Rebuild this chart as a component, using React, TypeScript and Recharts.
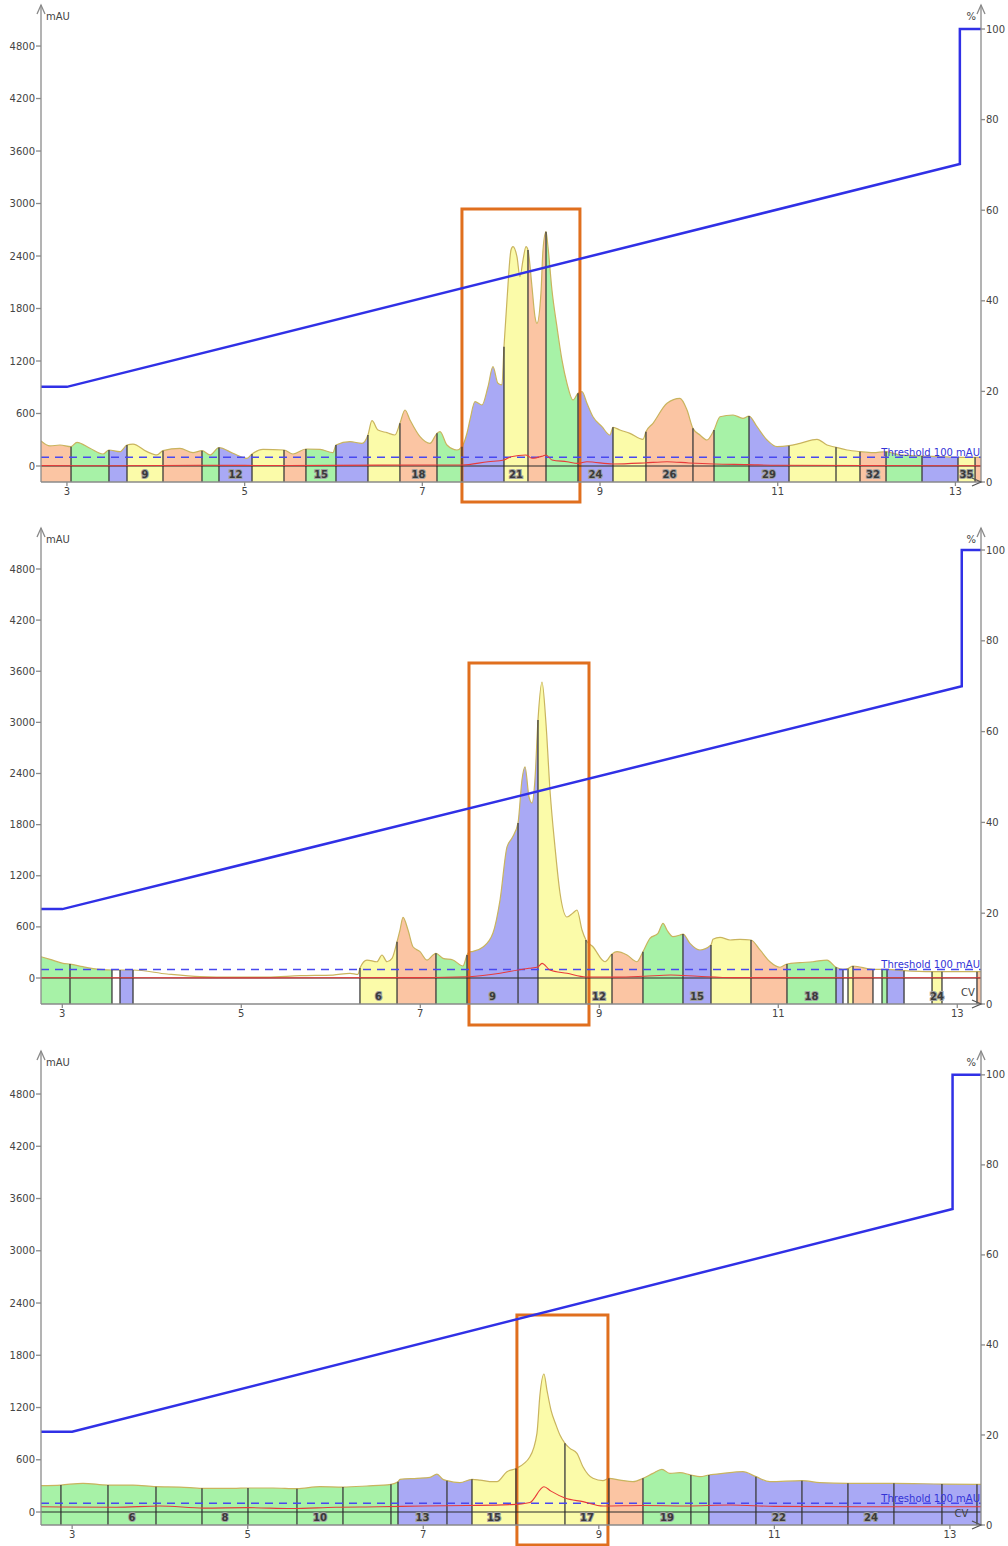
import React from 'react';
import {
  ComposedChart, Area, Line, XAxis, YAxis, ReferenceLine, ReferenceArea, ReferenceDot, Scatter,
} from 'recharts';

// ---------- shared axis ticks ----------
const volumeTicks = [3, 5, 7, 9, 11, 13];
const uvTicks = [0, 600, 1200, 1800, 2400, 3000, 3600, 4200, 4800];
const pctTicks = [0, 20, 40, 60, 80, 100];

// ---------- Run 1 ----------
const p1Volume = [2.708, 2.809, 2.921, 3.046, 3.113, 3.259, 3.406, 3.473, 3.597, 3.676,
  3.743, 3.901, 4.013, 4.081, 4.272, 4.419, 4.520, 4.610, 4.711, 4.869,
  5.026, 5.083, 5.206, 5.443, 5.544, 5.690, 5.848, 5.994, 6.028, 6.186,
  6.321, 6.388, 6.433, 6.501, 6.602, 6.692, 6.748, 6.805, 6.861, 6.974,
  7.086, 7.165, 7.199, 7.277, 7.390, 7.446, 7.503, 7.536, 7.593, 7.671,
  7.739, 7.795, 7.851, 7.896, 7.919, 7.953, 7.998, 8.020, 8.065, 8.099,
  8.133, 8.167, 8.189, 8.234, 8.268, 8.290, 8.335, 8.358, 8.392, 8.414,
  8.459, 8.515, 8.572, 8.628, 8.696, 8.752, 8.797, 8.853, 8.921, 9.022,
  9.112, 9.146, 9.225, 9.337, 9.484, 9.517, 9.596, 9.754, 9.900, 9.979,
  10.046, 10.125, 10.204, 10.283, 10.350, 10.497, 10.609, 10.677, 10.767, 10.880,
  10.992, 11.127, 11.251, 11.442, 11.555, 11.656, 11.780, 11.926, 12.073, 12.219,
  12.377, 12.624, 12.827, 13.029, 13.131, 13.221, 13.288];
const p1Uv = [286, 229, 240, 221, 271, 202, 137, 183, 164, 240,
  251, 164, 126, 175, 202, 152, 175, 126, 210, 145,
  88, 137, 190, 183, 137, 194, 190, 152, 240, 278,
  259, 354, 518, 411, 381, 354, 488, 640, 526, 335,
  259, 373, 392, 240, 183, 221, 377, 526, 735, 697,
  906, 1135, 945, 926, 1363, 1897, 2469, 2507, 2392, 2163,
  2354, 2507, 2469, 2049, 1706, 1630, 1973, 2469, 2678, 2507,
  2011, 1592, 1211, 945, 754, 831, 849, 717, 563, 449,
  354, 442, 411, 373, 305, 392, 488, 717, 773, 640,
  430, 354, 297, 411, 563, 583, 545, 571, 449, 297,
  221, 232, 259, 305, 240, 213, 183, 164, 152, 164,
  126, 114, 107, 99, 99, 99, 99];
const p1Edges = [3.046, 3.473, 3.676, 4.081, 4.520, 4.711, 5.083, 5.443, 5.690, 6.028,
  6.388, 6.748, 7.165, 7.446, 7.919, 8.189, 8.392, 8.752, 9.146, 9.517,
  10.046, 10.283, 10.677, 11.127, 11.656, 11.926, 12.219, 12.624, 13.029, 13.221];
const p1Regions = ['O', 'G', 'B', 'Y', 'O', 'G', 'B', 'Y', 'O', 'G', 'B', 'Y', 'O', 'G', 'B', 'Y',
  'O', 'G', 'B', 'Y', 'O', 'O', 'G', 'B', 'Y', 'Y', 'O', 'G', 'B', 'Y', 'O'];
const p1FracNo = [6, 7, 8, 9, 10, 11, 12, 13, 14, 15, 16, 17, 18, 19, 20, 21, 22, 23, 24, 25, 26,
  27, 28, 29, 30, 31, 32, 33, 34, 35, 36];
const p1Labeled = [9, 12, 15, 18, 21, 24, 26, 29, 32, 35];
const p1RedVol = [2.708, 3.5, 4.5, 5.5, 6.5, 7.446, 7.739, 7.919, 7.998, 8.167, 8.234, 8.358, 8.392,
  8.459, 8.628, 8.752, 8.853, 9.146, 9.5, 9.754, 10.0, 10.283, 10.65, 11.0, 12.0, 13.288];
const p1Red = [5, 3, 8, 5, 10, 11, 49, 69, 106, 126, 88, 115, 126, 69, 49, 30, 49, 23, 35, 49, 35,
  23, 16, 8, 5, 3];
const p1GradVol = [2.708, 3.0, 13.05, 13.05, 13.288];
const p1GradPct = [21, 21, 70.2, 100, 100];

// ---------- Run 2 ----------
const p2Volume = [2.762, 2.863, 3.008, 3.086, 3.231, 3.421, 3.555, 3.645, 3.790, 4.170,
  4.539, 4.907, 5.287, 5.656, 6.025, 6.215, 6.304, 6.326, 6.404, 6.516,
  6.572, 6.628, 6.684, 6.740, 6.773, 6.807, 6.863, 6.918, 6.997, 7.075,
  7.142, 7.175, 7.254, 7.365, 7.477, 7.522, 7.544, 7.589, 7.701, 7.812,
  7.891, 7.969, 8.025, 8.092, 8.136, 8.170, 8.215, 8.248, 8.281, 8.315,
  8.360, 8.404, 8.449, 8.505, 8.561, 8.639, 8.706, 8.751, 8.807, 8.851,
  8.929, 9.064, 9.142, 9.198, 9.310, 9.421, 9.488, 9.566, 9.656, 9.712,
  9.756, 9.823, 9.902, 9.935, 10.013, 10.125, 10.248, 10.270, 10.349, 10.461,
  10.572, 10.695, 10.796, 10.907, 11.019, 11.097, 11.242, 11.387, 11.544, 11.645,
  11.723, 11.779, 11.835, 12.058, 12.159, 12.215, 12.405, 12.718, 12.829, 13.220,
  13.265];
const p2Uv = [250, 219, 172, 164, 133, 102, 94, 94, 94, 47,
  16, 10, 10, 27, 35, 55, 43, 117, 211, 191,
  270, 191, 231, 426, 563, 712, 563, 367, 309, 211,
  270, 290, 231, 211, 141, 270, 305, 313, 364, 528,
  915, 1538, 1643, 1820, 2324, 2477, 2124, 2054, 2324, 3028,
  3474, 2993, 2207, 1538, 998, 716, 763, 798, 563, 446,
  367, 191, 282, 309, 270, 191, 309, 466, 524, 642,
  563, 485, 505, 516, 407, 329, 387, 454, 478, 446,
  454, 446, 329, 191, 126, 164, 180, 191, 211, 126,
  102, 110, 141, 102, 102, 102, 86, 74, 74, 74,
  74];
const p2Edges = [3.086, 3.555, 3.645, 3.790, 6.326, 6.740, 7.175, 7.522, 8.092, 8.315,
  8.851, 9.142, 9.488, 9.935, 10.248, 10.695, 11.097, 11.645, 11.723, 11.779,
  11.835, 12.058, 12.159, 12.215, 12.405, 12.718, 12.829, 13.220];
const p2Regions = ['G', 'G', 'W', 'B', 'W', 'Y', 'O', 'G', 'B', 'B', 'Y', 'Y', 'O', 'G', 'B', 'Y',
  'O', 'G', 'B', 'W', 'Y', 'O', 'W', 'G', 'B', 'W', 'Y', 'W', 'O'];
const p2FracNo = [3, 4, null, 5, null, 6, 7, 8, 9, 10, 11, 12, 13, 14, 15, 16, 17, 18, 19, null,
  20, 21, null, 22, 23, null, 24, null, 25];
const p2Labeled = [6, 9, 12, 15, 18, 24];
const p2RedVol = [2.762, 5.0, 7.0, 7.544, 7.891, 8.092, 8.215, 8.315, 8.360, 8.449, 8.639, 8.851,
  9.2, 9.5, 9.8, 10.1, 10.5, 13.265];
const p2Red = [3, 2, 5, 15, 55, 94, 114, 130, 172, 94, 55, 12, 10, 20, 35, 20, 5, 3];
const p2GradVol = [2.762, 3.0, 13.05, 13.05, 13.265];
const p2GradPct = [20.9, 20.9, 70, 100, 100];

// ---------- Run 3 ----------
const p3Volume = [2.645, 2.872, 3.123, 3.408, 3.693, 3.955, 4.228, 4.479, 4.832, 5.003,
  5.288, 5.561, 5.823, 6.085, 6.358, 6.632, 6.712, 6.735, 6.928, 7.076,
  7.156, 7.224, 7.270, 7.418, 7.555, 7.646, 7.794, 7.839, 7.953, 8.056,
  8.215, 8.295, 8.329, 8.375, 8.409, 8.455, 8.512, 8.557, 8.614, 8.671,
  8.751, 8.819, 8.933, 9.047, 9.115, 9.241, 9.389, 9.503, 9.617, 9.719,
  9.810, 9.924, 10.049, 10.152, 10.254, 10.414, 10.641, 10.790, 10.949, 11.314,
  11.519, 11.838, 12.362, 12.909, 13.308, 13.354];
const p3Uv = [302, 310, 330, 310, 310, 291, 287, 272, 272, 276,
  276, 268, 291, 287, 299, 318, 348, 375, 387, 398,
  436, 375, 360, 337, 375, 367, 348, 348, 463, 500,
  635, 904, 1344, 1585, 1401, 1171, 1000, 884, 789, 731,
  674, 520, 387, 360, 387, 367, 348, 387, 444, 490,
  444, 452, 425, 406, 425, 444, 463, 406, 348, 360,
  337, 329, 329, 321, 318, 318];
const p3Edges = [2.872, 3.408, 3.955, 4.479, 5.003, 5.561, 6.085, 6.632, 6.712, 7.270,
  7.555, 8.056, 8.614, 9.115, 9.503, 10.049, 10.254, 10.790, 11.314, 11.838,
  12.362, 12.909, 13.308];
const p3Regions = ['G', 'G', 'G', 'G', 'G', 'G', 'G', 'G', 'G', 'B', 'B', 'Y', 'Y', 'Y', 'O', 'G',
  'G', 'B', 'B', 'B', 'B', 'B', 'B', 'B'];
const p3FracNo = [4, 5, 6, 7, 8, 9, 10, 11, 12, 13, 14, 15, 16, 17, 18, 19, 20, 21, 22, 23, 24,
  25, 26, 27];
const p3Labeled = [6, 8, 10, 13, 15, 17, 19, 22, 24];
const p3RedVol = [2.645, 3.5, 4.0, 4.5, 5.0, 5.5, 6.0, 6.5, 7.0, 7.5, 8.0, 8.215, 8.375, 8.455,
  8.614, 8.819, 9.047, 9.5, 10.0, 10.5, 11.0, 12.0, 13.354];
const p3Red = [60, 55, 70, 45, 50, 40, 55, 60, 70, 75, 85, 110, 291, 240, 161, 119, 69, 75, 70,
  80, 65, 60, 60];
const p3GradVol = [2.645, 3.0, 13.03, 13.03, 13.354];
const p3GradPct = [20.7, 20.7, 70.2, 100, 100];

// ---------- styling ----------
const FILL: Record<string, string> = {
  O: '#fbc5a3', G: '#a7f2a7', B: '#a9a9f5', Y: '#fbfba9', W: '#ffffff',
};
const AXIS = '#8a8a8a';
const TICK_TEXT = '#444';
const PLOT_TOP = 5;

type Cfg = {
  id: string; top: number; height: number; plotBottom: number;
  xDomain: [number, number]; uvDomain: [number, number]; pctMax: number;
  volume: number[]; uv: number[]; edges: number[]; regions: string[];
  fracNo: (number | null)[]; labeled: number[];
  redVol: number[]; red: number[]; gradVol: number[]; gradPct: number[];
  box: { x1: number; x2: number; y1: number; y2: number };
  cv: number | null;
};

const panels: Cfg[] = [
  {
    id: 'r1', top: 0, height: 515, plotBottom: 482,
    xDomain: [2.708, 13.288], uvDomain: [-183, 5269], pctMax: 105.3,
    volume: p1Volume, uv: p1Uv, edges: p1Edges, regions: p1Regions, fracNo: p1FracNo, labeled: p1Labeled,
    redVol: p1RedVol, red: p1Red, gradVol: p1GradVol, gradPct: p1GradPct,
    box: { x1: 7.446, x2: 8.774, y1: -411, y2: 2937 }, cv: null,
  },
  {
    id: 'r2', top: 523, height: 505, plotBottom: 481,
    xDomain: [2.762, 13.265], uvDomain: [-305, 5281], pctMax: 104.85,
    volume: p2Volume, uv: p2Uv, edges: p2Edges, regions: p2Regions, fracNo: p2FracNo, labeled: p2Labeled,
    redVol: p2RedVol, red: p2Red, gradVol: p2GradVol, gradPct: p2GradPct,
    box: { x1: 7.544, x2: 8.885, y1: -552, y2: 3697 }, cv: 13.12,
  },
  {
    id: 'r3', top: 1046, height: 500, plotBottom: 479,
    xDomain: [2.645, 13.354], uvDomain: [-149, 5294], pctMax: 105.3,
    volume: p3Volume, uv: p3Uv, edges: p3Edges, regions: p3Regions, fracNo: p3FracNo, labeled: p3Labeled,
    redVol: p3RedVol, red: p3Red, gradVol: p3GradVol, gradPct: p3GradPct,
    box: { x1: 8.067, x2: 9.104, y1: -380, y2: 2262 }, cv: 13.13,
  },
];

const FracLabel = (p: any) => {
  if (p.payload.text === 'CV') {
    return (
      <text x={p.cx} y={p.cy} textAnchor="middle" dominantBaseline="central" fontSize={10}
        fill="#444">CV</text>
    );
  }
  return (
    <text x={p.cx} y={p.cy} textAnchor="middle" dominantBaseline="central" fontSize={10}
      fontWeight="bold" fill="#3a3a3a" stroke="#a0a0a0" strokeWidth={2}
      style={{ paintOrder: 'stroke' }}>
      {p.payload.text}
    </text>
  );
};

function Panel({ cfg }: { cfg: Cfg }) {
  const [x0, x1] = cfg.xDomain;
  const [y0, y1] = cfg.uvDomain;
  const uvData = cfg.volume.map((v, i) => ({ v, uv: cfg.uv[i] }));
  const redData = cfg.redVol.map((v, i) => ({ v, red: cfg.red[i] }));
  const gradData = cfg.gradVol.map((v, i) => ({ v, pct: cfg.gradPct[i] }));
  const bounds = [x0, ...cfg.edges, x1];
  const span = x1 - x0;
  const stops: React.ReactNode[] = [];
  cfg.regions.forEach((r, i) => {
    stops.push(<stop key={`a${i}`} offset={(bounds[i] - x0) / span} stopColor={FILL[r]} />);
    stops.push(<stop key={`b${i}`} offset={(bounds[i + 1] - x0) / span} stopColor={FILL[r]} />);
  });
  const plotH = cfg.plotBottom - PLOT_TOP;
  const labelY = y0 + ((y1 - y0) * 8) / plotH;
  const labels: { v: number; uv: number; text: string }[] = [];
  cfg.regions.forEach((_, i) => {
    const n = cfg.fracNo[i];
    if (n != null && cfg.labeled.includes(n)) {
      labels.push({ v: (bounds[i] + bounds[i + 1]) / 2, uv: labelY, text: String(n) });
    }
  });
  if (cfg.cv != null) labels.push({ v: cfg.cv, uv: labelY + ((y1 - y0) * 4) / plotH, text: 'CV' });
  const edgeTop = (e: number) => {
    const k = cfg.volume.indexOf(e);
    return k >= 0 ? cfg.uv[k] : 0;
  };
  const tickStyle = { fontSize: 10, fill: TICK_TEXT, fontFamily: 'DejaVu Sans' };

  return (
    <div style={{ position: 'absolute', left: 0, top: cfg.top }}>
      <ComposedChart width={1008} height={cfg.height}
        margin={{ top: PLOT_TOP, right: 0, bottom: 0, left: 0 }}>
        <defs>
          <linearGradient id={`fr-${cfg.id}`} x1="0" y1="0" x2="1" y2="0">
            {stops}
          </linearGradient>
        </defs>
        <XAxis type="number" dataKey="v" domain={[x0, x1]} allowDataOverflow ticks={volumeTicks}
          interval={0} height={cfg.height - cfg.plotBottom}
          tickSize={4} tickMargin={2} stroke={AXIS} strokeWidth={1.3} tick={tickStyle} />
        <YAxis yAxisId="uv" type="number" domain={[y0, y1]} allowDataOverflow ticks={uvTicks}
          interval={0} width={41} tickSize={5} tickMargin={1} stroke={AXIS} strokeWidth={1.3}
          tick={tickStyle} />
        <YAxis yAxisId="pct" orientation="right" type="number" domain={[0, cfg.pctMax]}
          allowDataOverflow ticks={pctTicks} interval={0} width={27} tickSize={4} tickMargin={1}
          stroke={AXIS} strokeWidth={1.3} tick={tickStyle} />

        <Area yAxisId="uv" data={uvData} dataKey="uv" type="monotone" baseValue={y0}
          fill={`url(#fr-${cfg.id})`} fillOpacity={1} stroke="#c9b45e" strokeWidth={1.2}
          dot={false} activeDot={false} isAnimationActive={false} />

        {cfg.edges.map((e) => (
          <ReferenceLine key={`e${e}`} yAxisId="uv"
            segment={[{ x: e, y: y0 }, { x: e, y: edgeTop(e) }]}
            stroke="#3a3a3a" strokeWidth={1.3} />
        ))}
        <ReferenceLine yAxisId="uv" y={0} stroke="#2b2b2b" strokeWidth={1.2} />
        <ReferenceLine yAxisId="uv" y={100} stroke="#4848f0" strokeWidth={1.5} strokeDasharray="8 6"
          label={{ value: 'Threshold 100 mAU', position: 'insideBottomRight', offset: 1, fill: '#3333d6', fontSize: 10 }} />

        <Line yAxisId="uv" data={redData} dataKey="red" type="monotone" stroke="#e83a3a"
          strokeWidth={1.1} dot={false} activeDot={false} isAnimationActive={false} />
        <Line yAxisId="pct" data={gradData} dataKey="pct" type="linear" stroke="#3030e6"
          strokeWidth={2.5} dot={false} activeDot={false} isAnimationActive={false} />

        <ReferenceArea yAxisId="uv" x1={cfg.box.x1} x2={cfg.box.x2} y1={cfg.box.y1} y2={cfg.box.y2}
          ifOverflow="visible" fill="none" fillOpacity={0} stroke="#e06f1e" strokeWidth={3} />

        <Scatter yAxisId="uv" data={labels} dataKey="uv" shape={FracLabel} isAnimationActive={false} />

        <ReferenceDot yAxisId="uv" x={x0} y={y1} r={0} ifOverflow="visible"
          shape={(p: any) => (
            <g>
              <path d={`M${p.cx - 4},${p.cy + 9}L${p.cx},${p.cy}L${p.cx + 4},${p.cy + 9}`}
                fill="none" stroke={AXIS} strokeWidth={1.3} />
              <text x={p.cx + 5} y={p.cy + 15} fontSize={10} fill={TICK_TEXT}>mAU</text>
            </g>
          )} />
        <ReferenceDot yAxisId="uv" x={x1} y={y1} r={0} ifOverflow="visible"
          shape={(p: any) => (
            <g>
              <path d={`M${p.cx - 4},${p.cy + 9}L${p.cx},${p.cy}L${p.cx + 4},${p.cy + 9}`}
                fill="none" stroke={AXIS} strokeWidth={1.3} />
              <text x={p.cx - 5} y={p.cy + 15} fontSize={10} fill={TICK_TEXT} textAnchor="end">%</text>
            </g>
          )} />
        <ReferenceDot yAxisId="uv" x={x1} y={y0} r={0} ifOverflow="visible"
          shape={(p: any) => (
            <path d={`M${p.cx - 9},${p.cy - 4}L${p.cx},${p.cy}L${p.cx - 9},${p.cy + 4}`}
              fill="none" stroke="#555" strokeWidth={1.3} />
          )} />
      </ComposedChart>
    </div>
  );
}

export default function App() {
  return (
    <div style={{ fontFamily: 'DejaVu Sans, sans-serif', position: 'relative', width: 1008, height: 1546 }}>
      <style>{'body{margin:0;overflow:hidden;background:#fff}'}</style>
      {panels.map((cfg) => <Panel key={cfg.id} cfg={cfg} />)}
    </div>
  );
}
